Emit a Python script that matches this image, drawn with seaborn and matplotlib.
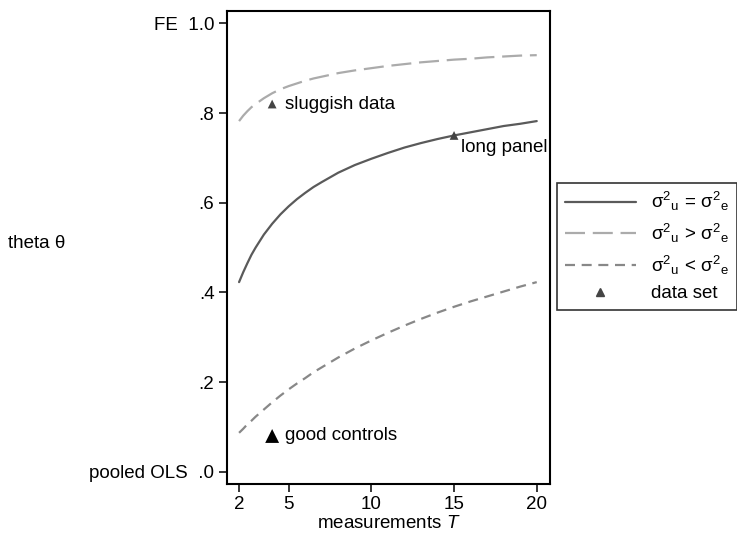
import matplotlib
matplotlib.use("Agg")
import matplotlib.pyplot as plt
import seaborn as sns
import pandas as pd
from matplotlib.lines import Line2D

sns.set_theme(style="ticks")
plt.rcParams['font.family'] = ['Liberation Sans', 'DejaVu Sans']
plt.rcParams['mathtext.fontset'] = 'custom'
plt.rcParams['mathtext.rm'] = 'Liberation Sans'
plt.rcParams['mathtext.it'] = 'Liberation Sans:italic'
plt.rcParams['text.color'] = 'black'
plt.rcParams['axes.labelcolor'] = 'black'
plt.rcParams['xtick.color'] = 'black'
plt.rcParams['ytick.color'] = 'black'

# measurements T
T = [2, 2.25, 2.5, 2.75, 3, 3.5, 4, 4.5, 5, 5.5, 6, 6.5, 7, 8, 9, 10, 11, 12, 13, 14,
     15, 16, 17, 18, 19, 20]
# theta for sigma2_u = sigma2_e
theta_equal = [0.423, 0.445, 0.465, 0.484, 0.500, 0.529, 0.553, 0.574, 0.592, 0.608,
               0.622, 0.635, 0.646, 0.667, 0.684, 0.698, 0.711, 0.723, 0.733, 0.742,
               0.750, 0.757, 0.764, 0.771, 0.776, 0.782]
# theta for sigma2_u > sigma2_e
theta_high = [0.782, 0.794, 0.804, 0.813, 0.820, 0.833, 0.844, 0.853, 0.860, 0.866,
              0.872, 0.877, 0.881, 0.889, 0.895, 0.900, 0.905, 0.909, 0.913, 0.916,
              0.919, 0.921, 0.924, 0.926, 0.928, 0.929]
# theta for sigma2_u < sigma2_e
theta_low = [0.087, 0.096, 0.106, 0.114, 0.123, 0.139, 0.155, 0.170, 0.184, 0.197,
             0.209, 0.222, 0.233, 0.255, 0.275, 0.293, 0.310, 0.326, 0.341, 0.355,
             0.368, 0.380, 0.391, 0.402, 0.413, 0.423]

# data sets
ds_names = ["sluggish data", "long panel", "good controls"]
ds_T = [4, 15, 4]
ds_theta = [0.82, 0.75, 0.08]

xticks = [2, 5, 10, 15, 20]
yticks = [0.0, 0.2, 0.4, 0.6, 0.8, 1.0]
yticklabels = ["pooled OLS  .0", ".2", ".4", ".6", ".8", "FE  1.0"]

FS = 13.5
LW = 1.6

fig = plt.figure(figsize=(7.37, 5.33), dpi=100)
ax = fig.add_axes([0.308, 0.092, 0.438, 0.887])

df = pd.DataFrame({"T": T, "equal": theta_equal, "high": theta_high, "low": theta_low})

c_eq, c_hi, c_lo = "#5a5a5a", "#ababab", "#888888"
sns.lineplot(data=df, x="T", y="equal", ax=ax, color=c_eq, lw=LW)
sns.lineplot(data=df, x="T", y="high", ax=ax, color=c_hi, lw=LW)
ax.lines[-1].set_dashes([9, 3.5])
sns.lineplot(data=df, x="T", y="low", ax=ax, color=c_lo, lw=LW)
ax.lines[-1].set_dashes([4.5, 3])

pts = pd.DataFrame({"T": ds_T, "theta": ds_theta, "name": ds_names})
small = pts.iloc[:2]
big = pts.iloc[2:]
sns.scatterplot(data=small, x="T", y="theta", ax=ax, marker="^", s=40, color="#444444",
                edgecolor="none", zorder=5)
sns.scatterplot(data=big, x="T", y="theta", ax=ax, marker="^", s=100, color="black",
                edgecolor="none", zorder=5)

ax.annotate(ds_names[0], (ds_T[0], ds_theta[0]), xytext=(9, 0), textcoords="offset points",
            ha="left", va="center", fontsize=FS)
ax.annotate(ds_names[1], (ds_T[1], ds_theta[1]), xytext=(5, -9), textcoords="offset points",
            ha="left", va="center", fontsize=FS)
ax.annotate(ds_names[2], (ds_T[2], ds_theta[2]), xytext=(9, 0), textcoords="offset points",
            ha="left", va="center", fontsize=FS)

ax.set_xlim(1.27, 20.79)
ax.set_ylim(-0.027, 1.027)
ax.set_xticks(xticks)
ax.set_xticklabels([str(t) for t in xticks], fontsize=FS)
ax.set_yticks(yticks)
ax.set_yticklabels(yticklabels, fontsize=FS)
ax.tick_params(axis="both", direction="out", length=6, width=1.1, color="black", pad=3)
for s in ax.spines.values():
    s.set_linewidth(1.5)
    s.set_color("black")
ax.set_xlabel("measurements $T$", fontsize=FS, labelpad=1)
ax.set_ylabel("")
fig.text(0.011, 0.543, "theta θ", fontsize=FS, ha="left", va="center")

handles = [
    Line2D([], [], color=c_eq, lw=LW),
    Line2D([], [], color=c_hi, lw=LW, dashes=[9, 3.5]),
    Line2D([], [], color=c_lo, lw=LW, dashes=[4.5, 3]),
    Line2D([], [], color="#444444", marker="^", ls="none", markersize=6),
]
sig = r"\mathrm{σ}^{2}{}_{\mathrm{%s}}"
labels = [r"$%s\,=\,%s$" % (sig % "u", sig % "e"),
          r"$%s\,>\,%s$" % (sig % "u", sig % "e"),
          r"$%s\,<\,%s$" % (sig % "u", sig % "e"),
          "data set"]
leg = fig.legend(handles, labels, loc="center left", bbox_to_anchor=(0.7558, 0.538),
                 fontsize=FS, frameon=True, fancybox=False, edgecolor="black",
                 handlelength=3.8, handletextpad=0.8, labelspacing=0.45, borderpad=0.4,
                 borderaxespad=0)
leg.get_frame().set_linewidth(1.2)

fig.savefig("out.png", dpi=100)
